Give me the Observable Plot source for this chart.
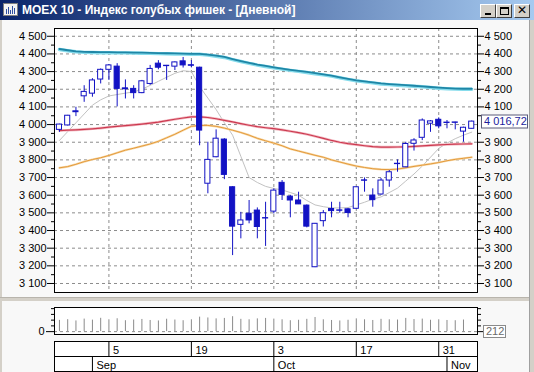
<!DOCTYPE html>
<html>
<head>
<meta charset="utf-8">
<script src="https://cdn.jsdelivr.net/npm/d3@7"></script>
<script src="https://cdn.jsdelivr.net/npm/@observablehq/plot@0.6"></script>
<style>
html,body{margin:0;padding:0;}
body{width:534px;height:372px;overflow:hidden;background:#d4d0c8;position:relative;font-family:"Liberation Sans",Arial,sans-serif;}
#title{position:absolute;left:0;top:0;width:534px;height:20px;background:linear-gradient(to right,#0a246a,#a6caf0);}
#title .t{position:absolute;left:22px;top:3px;color:#fff;font:bold 12px "Liberation Sans",Arial,sans-serif;white-space:nowrap;}
#icon{position:absolute;left:3px;top:3px;width:15px;height:13px;background:#f4f4f4;border:1px solid #808080;box-sizing:border-box;}
#icon i{position:absolute;bottom:1px;width:1px;background:#3050a0;}
.btn{position:absolute;top:4px;width:16px;height:14px;background:#d4d0c8;box-sizing:border-box;border-top:1px solid #fff;border-left:1px solid #fff;border-right:1px solid #404040;border-bottom:1px solid #404040;}
#interior{position:absolute;left:2px;top:20px;width:527px;height:352px;background:#f8f8f8;}
#sep{position:absolute;left:0;top:297px;width:534px;height:4px;background:#d4d0c8;border-top:1px solid #b8b4ac;box-sizing:border-box;}
#rborder{position:absolute;left:529px;top:20px;width:5px;height:352px;background:#d4d0c8;border-left:1px solid #a0a0a0;box-sizing:border-box;}
.plot{position:absolute;left:0;}
</style>
</head>
<body>
<div id="interior"></div>
<div id="sep"></div>
<div id="rborder"></div>
<div id="title">
  <div id="icon"><i style="left:2px;height:5px"></i><i style="left:4px;height:7px"></i><i style="left:6px;height:4px"></i><i style="left:8px;height:8px"></i><i style="left:10px;height:6px"></i></div>
  <div class="t">MOEX 10 - Индекс голубых фишек - [Дневной]</div>
  <div class="btn" style="left:480px"><div style="position:absolute;left:4px;top:8px;width:6px;height:2px;background:#000"></div></div>
  <div class="btn" style="left:496px"><div style="position:absolute;left:3px;top:2px;width:9px;height:8px;border:1px solid #000;border-top-width:2px;box-sizing:border-box"></div></div>
  <div class="btn" style="left:514px"><div style="position:absolute;left:0;top:-2px;width:14px;text-align:center;font:bold 12px 'DejaVu Sans';color:#000">✕</div></div>
</div>
<div id="main" class="plot" style="top:20px"></div>
<div id="vol" class="plot" style="top:300px"></div>
<div id="dates" class="plot" style="top:338px"></div>
<script>
// ---- data ----
const open  = [3970,3995,4075,4160,4175,4255,4310,4328,4205,4202,4178,4230,4345,4333,4328,4358,4336,4322,3665,3815,3915,3645,3432,3495,3513,3470,3507,3670,3592,3570,3541,3192,3453,3522,3514,3520,3523,3684,3598,3604,3683,3778,3758,3891,3925,4005,4027,4011,4012,3960,3976];
const high  = [4002,4052,4098,4220,4260,4315,4340,4345,4253,4220,4250,4335,4362,4335,4355,4380,4362,4325,3900,3970,3920,3648,3503,3570,3528,3560,3636,3683,3598,3617,3545,3440,3513,3560,3560,3525,3646,3698,3636,3695,3740,3800,3900,3920,4032,4023,4038,4023,4013,3985,4020];
const low   = [3956,3992,4045,4126,4155,4230,4250,4100,4145,4145,4175,4222,4310,4250,4306,4320,4321,3880,3608,3812,3688,3258,3353,3438,3353,3310,3494,3570,3472,3547,3415,3190,3420,3472,3498,3472,3522,3617,3532,3600,3645,3730,3756,3850,3909,3956,3976,3976,3970,3900,3975];
const close = [4000,4050,4070,4185,4250,4310,4335,4202,4200,4178,4245,4315,4322,4331,4352,4335,4333,3966,3800,3920,3715,3422,3457,3457,3420,3468,3626,3602,3570,3548,3422,3438,3498,3510,3512,3499,3645,3682,3572,3683,3730,3776,3890,3910,4023,4018,3990,4009,4010,3982,4016.72];
const maLong  = [4425,4418,4412,4409,4408,4407,4407,4406,4406,4405,4404,4403,4402,4401,4400,4399,4398,4398,4393,4387,4380,4368,4357,4347,4337,4329,4321,4314,4307,4301,4295,4288,4281,4274,4265,4256,4248,4242,4236,4230,4226,4223,4220,4217,4214,4210,4206,4203,4201,4200,4200];
const maMid   = [3966,3968,3970,3973,3976,3980,3985,3990,3994,3998,4003,4008,4014,4022,4030,4037,4044,4044,4040,4033,4024,4015,4005,3996,3988,3982,3977,3970,3962,3954,3945,3934,3922,3910,3900,3892,3886,3880,3875,3872,3872,3873,3874,3876,3879,3882,3885,3887,3889,3890,3891];
const maSlow  = [3755,3762,3775,3790,3802,3812,3825,3840,3855,3866,3878,3890,3905,3925,3945,3968,3990,3995,3995,3990,3980,3968,3955,3940,3922,3908,3895,3880,3862,3850,3838,3826,3815,3800,3788,3776,3765,3757,3750,3746,3745,3748,3755,3763,3770,3777,3785,3795,3803,3809,3815];
const maShort = [3910,3960,4010,4060,4110,4140,4162,4170,4178,4185,4200,4222,4245,4268,4290,4305,4300,4215,4150,4085,4010,3940,3820,3700,3672,3650,3638,3630,3615,3600,3570,3545,3535,3528,3528,3530,3545,3560,3578,3590,3615,3640,3680,3720,3765,3815,3865,3895,3920,3940,3957];
const volume  = [9800,10400,9300,10900,10000,11600,10300,11200,9500,10100,10600,9700,9300,10800,10100,9500,10300,12600,11900,11100,11500,13000,10700,10300,11100,11500,10900,10300,9500,9900,10700,12300,10300,9700,9300,9900,11100,10300,9700,10700,10300,10100,11500,10500,10900,9900,10300,9700,9500,10100,212];
const dayTickIndex  = [6,16,26,36,46];
const dayTickLabels = ["5","19","3","17","31"];
const monthTickIndex  = [4,26,47];
const monthTickLabels = ["Sep","Oct","Nov"];
const yTicks = d3.range(3100, 4501, 100);
const yMinor = d3.range(3150, 4500, 100);
const volMinor = [5000,10000,15000,20000];

// ---- build ----
const N = close.length;
const candles = d3.range(N).map(i => ({i, o: open[i], h: high[i], l: low[i], c: close[i], v: volume[i]}));
const series = arr => arr.map((v, i) => ({i, v}));
const blue = "#1212c4";
const font = {background: "transparent", fontFamily: "'Liberation Sans', Arial, sans-serif", fontSize: "11px", color: "#000", overflow: "visible"};
const xDomain = [-0.6, 50.7];
const W = 534, ML = 54, MR = 57;
const fmt = d => d3.format(",")(d).replace(/,/g, " ");
const grid = {stroke: "#8c8c8c", strokeOpacity: 1, strokeDasharray: "3,3"};

function valueBox(value, label, {w, h, dx, color, border}) {
  return (index, scales, values, dimensions) => {
    const y = Math.round(scales.y(value));
    const x0 = dimensions.width - dimensions.marginRight + dx;
    const g = d3.create("svg:g");
    g.append("rect").attr("x", x0 + 0.5).attr("y", y - h / 2 + 0.5).attr("width", w).attr("height", h)
      .attr("fill", "#fff").attr("stroke", border);
    g.append("text").attr("x", x0 + 3).attr("y", y + 0.5).attr("dy", "0.36em").attr("fill", color)
      .attr("text-anchor", "start")
      .attr("font-size", 11).attr("font-family", "'Liberation Sans', Arial, sans-serif").text(label);
    return g.node();
  };
}

const up = candles.filter(d => d.c >= d.o);
const down = candles.filter(d => d.c < d.o);

const main = Plot.plot({
  width: W, height: 276,
  marginLeft: ML, marginRight: MR, marginTop: 8, marginBottom: 4,
  x: {domain: xDomain, axis: null},
  y: {domain: [3049, 4544], axis: null},
  style: font,
  marks: [
    Plot.frame({fill: "#fff", stroke: "none"}),
    Plot.gridY(yTicks, grid),
    Plot.gridX(dayTickIndex, grid),
    Plot.line(series(maShort), {x: "i", y: "v", stroke: "#c2c2c2", strokeWidth: 1}),
    Plot.line(series(maSlow), {x: "i", y: "v", stroke: "#f7d9a8", strokeWidth: 2.2}),
    Plot.line(series(maSlow), {x: "i", y: "v", stroke: "#e49a3c", strokeWidth: 1}),
    Plot.line(series(maMid), {x: "i", y: "v", stroke: "#f2b8c0", strokeWidth: 2.6}),
    Plot.line(series(maMid), {x: "i", y: "v", stroke: "#cc3a50", strokeWidth: 1.2}),
    Plot.line(series(maLong), {x: "i", y: "v", stroke: "#86dcec", strokeWidth: 3.4}),
    Plot.line(series(maLong), {x: "i", y: "v", stroke: "#1f86a6", strokeWidth: 1.8, dy: -0.5}),
    Plot.ruleX(candles, {x: "i", y1: "l", y2: "h", stroke: blue, strokeWidth: 1}),
    Plot.rect(up, {x1: d => d.i - 0.31, x2: d => d.i + 0.31, y1: "o", y2: "c", fill: "#fff", stroke: blue, strokeWidth: 1}),
    Plot.rect(down, {x1: d => d.i - 0.31, x2: d => d.i + 0.31, y1: "o", y2: "c", fill: blue, stroke: blue, strokeWidth: 1}),
    Plot.frame({stroke: "#000"}),
    Plot.axisY(yTicks, {anchor: "left", tickSize: 7, tickPadding: 1, tickFormat: fmt, label: null}),
    Plot.axisY(yMinor, {anchor: "left", tickSize: 3, tickFormat: () => "", label: null}),
    Plot.axisY(yTicks.filter(v => v !== 4000), {anchor: "right", tickSize: 6, tickPadding: 1, tickFormat: fmt, label: null}),
    Plot.axisY(yMinor, {anchor: "right", tickSize: 3, tickFormat: () => "", label: null}),
    valueBox(close[N - 1], d3.format(".2f")(close[N - 1]).replace(".", ",").replace(/^(\d)(\d{3})/, "$1 $2"),
      {w: 46, h: 13, dx: 4, color: "#1c1c9c", border: "#5a5a7a"})
  ]
});
document.getElementById("main").append(main);

const vol = Plot.plot({
  width: W, height: 38,
  marginLeft: ML, marginRight: MR, marginTop: 7, marginBottom: 4,
  x: {domain: xDomain, axis: null},
  y: {domain: [-2500, 21000], axis: null},
  style: font,
  marks: [
    Plot.frame({fill: "#fff", stroke: "none"}),
    Plot.ruleY([0], {stroke: "#8c8c8c", strokeDasharray: "3,3"}),
    Plot.ruleX(candles, {x: "i", y1: 0, y2: "v", stroke: "#8a8a8a", strokeWidth: 1}),
    Plot.frame({stroke: "#000"}),
    Plot.axisY([0], {anchor: "left", tickSize: 8, tickPadding: 2, label: null}),
    Plot.axisY(volMinor, {anchor: "left", tickSize: 3, tickFormat: () => "", label: null}),
    Plot.axisY([0], {anchor: "right", tickSize: 6, tickFormat: () => "", label: null}),
    Plot.axisY(volMinor, {anchor: "right", tickSize: 3, tickFormat: () => "", label: null}),
    valueBox(0, String(volume[N - 1]), {w: 22, h: 12, dx: 6, color: "#6a6a6a", border: "#8a8a8a"})
  ]
});
document.getElementById("vol").append(vol);

const dayTicks = dayTickIndex.map((i, k) => ({i, label: dayTickLabels[k]}));
const monthTicks = monthTickIndex.map((i, k) => ({i, label: monthTickLabels[k]}));
const dates = Plot.plot({
  width: W, height: 34,
  marginLeft: ML, marginRight: MR, marginTop: 3, marginBottom: 1,
  x: {domain: xDomain, axis: null},
  y: {domain: [0, 2], axis: null},
  style: font,
  marks: [
    Plot.frame({fill: "#fff", stroke: "#000"}),
    Plot.ruleY([1], {stroke: "#000"}),
    Plot.ruleX(dayTicks, {x: "i", y1: 1, y2: 2, stroke: "#000"}),
    Plot.ruleX(monthTicks, {x: "i", y1: 0, y2: 1, stroke: "#000"}),
    Plot.text(dayTicks, {x: "i", y: 1.5, text: "label", dx: 4, dy: 1, textAnchor: "start", fill: "#000"}),
    Plot.text(monthTicks, {x: "i", y: 0.5, text: "label", dx: 4, dy: 1, textAnchor: "start", fill: "#000"})
  ]
});
document.getElementById("dates").append(dates);
</script>
</body>
</html>
